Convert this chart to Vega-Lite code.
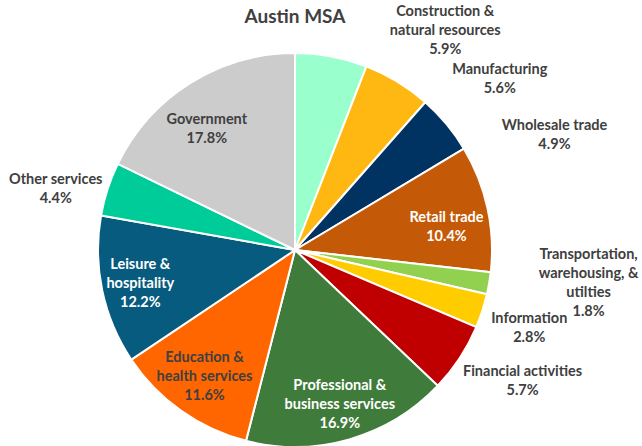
{
  "$schema": "https://vega.github.io/schema/vega-lite/v6.json",
  "width": 590,
  "height": 420,
  "autosize": "none",
  "padding": {"left": 0, "top": 40, "right": 52, "bottom": 0},
  "background": "white",
  "title": {"text": "Austin MSA", "font": "Lato", "fontSize": 19, "fontWeight": "bold", "color": "#404040", "anchor": "middle", "frame": "group", "offset": -4, "dy": 19},
  "data": {"values": [
    {"sector": "Construction &\nnatural resources", "value": 5.9},
    {"sector": "Manufacturing", "value": 5.6},
    {"sector": "Wholesale trade", "value": 4.9},
    {"sector": "Retail trade", "value": 10.4},
    {"sector": "Transportation,\nwarehousing, &\nutilties", "value": 1.8},
    {"sector": "Information", "value": 2.8},
    {"sector": "Financial activities", "value": 5.7},
    {"sector": "Professional &\nbusiness services", "value": 16.9},
    {"sector": "Education &\nhealth services", "value": 11.6},
    {"sector": "Leisure &\nhospitality", "value": 12.2},
    {"sector": "Other services", "value": 4.4},
    {"sector": "Government", "value": 17.8}
  ]},
  "transform": [
    {"window": [{"op": "row_number", "as": "idx"}]},
    {"stack": "value", "groupby": [], "sort": [{"field": "idx", "order": "ascending"}], "as": ["v0", "v1"]},
    {"calculate": "(datum.v0 + datum.v1) / 2", "as": "mid"},
    {"calculate": "datum.sector + '\\n' + format(datum.value, '.1f') + '%'", "as": "txt"}
  ],
  "layer": [
    {
      "mark": {"type": "arc", "outerRadius": 197, "stroke": "white", "strokeWidth": 2},
      "encoding": {
        "theta": {"field": "v0", "type": "quantitative", "stack": null, "scale": {"domain": [0, 100]}},
        "theta2": {"field": "v1"},
        "color": {"field": "sector", "type": "nominal", "sort": null, "legend": null,
          "scale": {"range": ["#99FFCC", "#FFB812", "#003262", "#C45A08", "#92D050", "#FFCC00", "#C00000", "#3F7B3A", "#FF6600", "#075B7E", "#00CC99", "#CCCCCC"]}}
      }
    },
    {"transform": [{"filter": "datum.idx == 1"}], "mark": {"type": "text", "radius": 240, "dx": 106, "dy": -2, "font": "Lato", "fontSize": 14.5, "fontWeight": "bold", "lineBreak": "\n", "lineHeight": 19, "align": "center", "baseline": "middle", "color": "#404040"},
      "encoding": {"theta": {"field": "mid", "type": "quantitative", "stack": null, "scale": {"domain": [0, 100]}}, "text": {"field": "txt"}}},
    {"transform": [{"filter": "datum.idx == 2"}], "mark": {"type": "text", "radius": 240, "dx": 80, "dy": 25, "font": "Lato", "fontSize": 14.5, "fontWeight": "bold", "lineBreak": "\n", "lineHeight": 19, "align": "center", "baseline": "middle", "color": "#404040"},
      "encoding": {"theta": {"field": "mid", "type": "quantitative", "stack": null, "scale": {"domain": [0, 100]}}, "text": {"field": "txt"}}},
    {"transform": [{"filter": "datum.idx == 3"}], "mark": {"type": "text", "radius": 240, "dx": 75, "dy": 30, "font": "Lato", "fontSize": 14.5, "fontWeight": "bold", "lineBreak": "\n", "lineHeight": 19, "align": "center", "baseline": "middle", "color": "#404040"},
      "encoding": {"theta": {"field": "mid", "type": "quantitative", "stack": null, "scale": {"domain": [0, 100]}}, "text": {"field": "txt"}}},
    {"transform": [{"filter": "datum.idx == 4"}], "mark": {"type": "text", "radius": 155, "dx": 0, "dy": 1, "font": "Lato", "fontSize": 14.5, "fontWeight": "bold", "lineBreak": "\n", "lineHeight": 19, "align": "center", "baseline": "middle", "color": "white"},
      "encoding": {"theta": {"field": "mid", "type": "quantitative", "stack": null, "scale": {"domain": [0, 100]}}, "text": {"field": "txt"}}},
    {"transform": [{"filter": "datum.idx == 5"}], "mark": {"type": "text", "radius": 240, "dx": 57, "dy": -36, "font": "Lato", "fontSize": 14.5, "fontWeight": "bold", "lineBreak": "\n", "lineHeight": 19, "align": "center", "baseline": "middle", "color": "#404040"},
      "encoding": {"theta": {"field": "mid", "type": "quantitative", "stack": null, "scale": {"domain": [0, 100]}}, "text": {"field": "txt"}}},
    {"transform": [{"filter": "datum.idx == 6"}], "mark": {"type": "text", "radius": 240, "dx": 6, "dy": -5, "font": "Lato", "fontSize": 14.5, "fontWeight": "bold", "lineBreak": "\n", "lineHeight": 19, "align": "center", "baseline": "middle", "color": "#404040"},
      "encoding": {"theta": {"field": "mid", "type": "quantitative", "stack": null, "scale": {"domain": [0, 100]}}, "text": {"field": "txt"}}},
    {"transform": [{"filter": "datum.idx == 7"}], "mark": {"type": "text", "radius": 240, "dx": 27, "dy": -10, "font": "Lato", "fontSize": 14.5, "fontWeight": "bold", "lineBreak": "\n", "lineHeight": 19, "align": "center", "baseline": "middle", "color": "#404040"},
      "encoding": {"theta": {"field": "mid", "type": "quantitative", "stack": null, "scale": {"domain": [0, 100]}}, "text": {"field": "txt"}}},
    {"transform": [{"filter": "datum.idx == 8"}], "mark": {"type": "text", "radius": 155, "dx": 2, "dy": -13, "font": "Lato", "fontSize": 14.5, "fontWeight": "bold", "lineBreak": "\n", "lineHeight": 19, "align": "center", "baseline": "middle", "color": "white"},
      "encoding": {"theta": {"field": "mid", "type": "quantitative", "stack": null, "scale": {"domain": [0, 100]}}, "text": {"field": "txt"}}},
    {"transform": [{"filter": "datum.idx == 9"}], "mark": {"type": "text", "radius": 155, "dx": -1, "dy": -19, "font": "Lato", "fontSize": 14.5, "fontWeight": "bold", "lineBreak": "\n", "lineHeight": 19, "align": "center", "baseline": "middle", "color": "#404040"},
      "encoding": {"theta": {"field": "mid", "type": "quantitative", "stack": null, "scale": {"domain": [0, 100]}}, "text": {"field": "txt"}}},
    {"transform": [{"filter": "datum.idx == 10"}], "mark": {"type": "text", "radius": 155, "dx": -3, "dy": -17, "font": "Lato", "fontSize": 14.5, "fontWeight": "bold", "lineBreak": "\n", "lineHeight": 19, "align": "center", "baseline": "middle", "color": "white"},
      "encoding": {"theta": {"field": "mid", "type": "quantitative", "stack": null, "scale": {"domain": [0, 100]}}, "text": {"field": "txt"}}},
    {"transform": [{"filter": "datum.idx == 11"}], "mark": {"type": "text", "radius": 240, "dx": -11, "dy": 4, "font": "Lato", "fontSize": 14.5, "fontWeight": "bold", "lineBreak": "\n", "lineHeight": 19, "align": "center", "baseline": "middle", "color": "#404040"},
      "encoding": {"theta": {"field": "mid", "type": "quantitative", "stack": null, "scale": {"domain": [0, 100]}}, "text": {"field": "txt"}}},
    {"transform": [{"filter": "datum.idx == 12"}], "mark": {"type": "text", "radius": 155, "dx": -6, "dy": 1, "font": "Lato", "fontSize": 14.5, "fontWeight": "bold", "lineBreak": "\n", "lineHeight": 19, "align": "center", "baseline": "middle", "color": "#404040"},
      "encoding": {"theta": {"field": "mid", "type": "quantitative", "stack": null, "scale": {"domain": [0, 100]}}, "text": {"field": "txt"}}}
  ]
}
